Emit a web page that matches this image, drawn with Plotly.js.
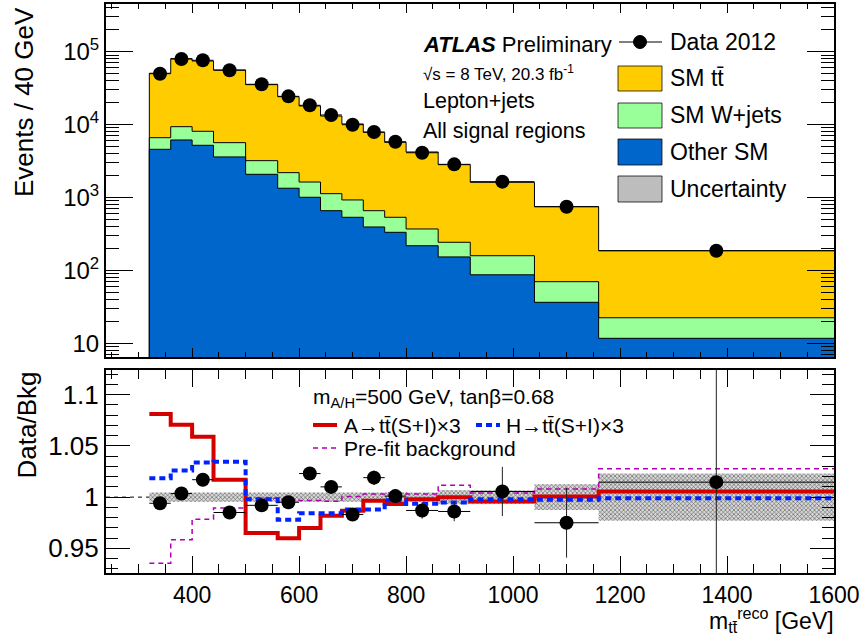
<!DOCTYPE html>
<html><head><meta charset="utf-8">
<script src="https://cdn.plot.ly/plotly-3.0.1.min.js"></script>
<style>body{margin:0;background:#fff;} #chart{width:862px;height:639px;}</style>
</head><body><div id="chart"></div>
<script>
// ---------------- data ----------------
const binEdges   = [320,360,400,440,500,560,600,640,680,720,760,800,860,920,1040,1160,1600];
const otherSM    = [4580, 6150, 5200, 3600, 2080, 1340, 1007, 659, 535, 394, 333, 218, 153, 87, 36.5, 11.7];
const wjets      = [2030, 3210, 2890, 2050, 1120, 850, 623, 469, 390, 265, 202, 152, 90, 72, 33.5, 10.7];
const ttbar      = [43990, 70840, 66410, 50450, 32100, 21910, 16370, 11970, 9275, 7170, 5175, 3840, 2577, 1456, 678, 164];
const dataCounts = [49900, 79400, 76300, 55600, 35700, 24400, 18400, 13550, 9970, 7910, 5820, 4110, 2850, 1648, 748, 186];

const ratioData  = [0.994, 1.0035, 1.017, 0.985, 0.992, 0.995, 1.023, 1.010, 0.983, 1.019, 1.001, 0.987, 0.986, 1.0055, 0.975, 1.0146];
const ratioErr   = [0.004, 0.003, 0.003, 0.004, 0.004, 0.005, 0.005, 0.006, 0.006, 0.007, 0.007, 0.008, 0.0095, 0.024, 0.034, 0.16];
const bandRelErr = [0.0045, 0.0045, 0.0045, 0.0045, 0.0045, 0.0045, 0.0045, 0.0045, 0.0045, 0.0045, 0.0045, 0.0045, 0.007, 0.0065, 0.0125, 0.023];
const ratioA     = [1.081, 1.0705, 1.059, 1.017, 0.965, 0.960, 0.970, 0.9818, 0.9866, 0.9964, 0.9932, 0.998, 1.000, 0.9957, 1.0006, 1.0055];
const ratioH     = [1.0185, 1.026, 1.0337, 1.0344, 0.998, 0.978, 0.9844, 0.9844, 0.988, 0.988, 0.997, 0.9935, 0.9948, 0.998, 0.9974, 0.999];
const ratioPrefit= [0.9356, 0.9584, 0.9785, 0.9893, 0.999, 0.998, 0.9966, 0.996, 1.0006, 1.003, 1.004, 1.003, 1.0117, 1.004, 1.008, 1.0276];

const logTickVals = [10, 100, 1000, 10000, 100000];
const logTickText = ['10', '10<sup>2</sup>', '10<sup>3</sup>', '10<sup>4</sup>', '10<sup>5</sup>'];
const ratioTickVals = [0.95, 1, 1.05, 1.1];
const ratioTickText = ['0.95', '1', '1.05', '1.1'];

// ---------------- helpers ----------------
const nb = otherSM.length;
const centers = [], halfW = [];
for (let i = 0; i < nb; i++) { centers.push((binEdges[i] + binEdges[i+1]) / 2); halfW.push((binEdges[i+1] - binEdges[i]) / 2); }
const stackGreen = otherSM.map((v, i) => v + wjets[i]);
const stackTotal = stackGreen.map((v, i) => v + ttbar[i]);

function stepHist(vals) {        // closed-at-left step outline for a histogram
  const x = [binEdges[0]], y = [1];
  for (let i = 0; i < nb; i++) { x.push(binEdges[i]); y.push(vals[i]); }
  x.push(binEdges[nb]); y.push(vals[nb-1]);
  return {x, y};
}
function stepLine(vals) {
  const x = [], y = [];
  for (let i = 0; i < nb; i++) { x.push(binEdges[i]); y.push(vals[i]); }
  x.push(binEdges[nb]); y.push(vals[nb-1]);
  return {x, y};
}
const minorLog = [];
for (let d = 0; d <= 5; d++) for (let k = 2; k <= 9; k++) minorLog.push(k * Math.pow(10, d));

// pixel -> paper
const L = 106, R = 834, T = 4, B = 573;
const px = p => (p - L) / (R - L);
const py = p => (B - p) / (B - T);

const FONT = 'Liberation Sans, Arial, Helvetica, sans-serif';

// ---------------- traces ----------------
const hTot = stepHist(stackTotal), hGreen = stepHist(stackGreen), hBlue = stepHist(otherSM);
const traces = [
  {x: hTot.x, y: hTot.y, type: 'scatter', mode: 'lines', line: {shape: 'hv', color: 'black', width: 1},
   fill: 'tozeroy', fillcolor: '#FFCC00', xaxis: 'x', yaxis: 'y', name: 'SM tt\u0304', hoverinfo: 'skip'},
  {x: hGreen.x, y: hGreen.y, type: 'scatter', mode: 'lines', line: {shape: 'hv', color: 'black', width: 1},
   fill: 'tozeroy', fillcolor: '#99FF99', xaxis: 'x', yaxis: 'y', name: 'SM W+jets', hoverinfo: 'skip'},
  {x: hBlue.x, y: hBlue.y, type: 'scatter', mode: 'lines', line: {shape: 'hv', color: 'black', width: 1},
   fill: 'tozeroy', fillcolor: '#0066CC', xaxis: 'x', yaxis: 'y', name: 'Other SM', hoverinfo: 'skip'},
  {x: centers, y: dataCounts, type: 'scatter', mode: 'markers', marker: {color: 'black', size: 14},
   error_x: {type: 'data', array: halfW, color: 'black', thickness: 1, width: 0},
   xaxis: 'x', yaxis: 'y', name: 'Data 2012'}
];

// uncertainty band (ratio)
const bx = [], by = [];
for (let i = 0; i < nb; i++) { bx.push(binEdges[i], binEdges[i+1]); by.push(1 + bandRelErr[i], 1 + bandRelErr[i]); }
for (let i = nb - 1; i >= 0; i--) { bx.push(binEdges[i+1], binEdges[i]); by.push(1 - bandRelErr[i], 1 - bandRelErr[i]); }
traces.push({x: bx, y: by, type: 'scatter', mode: 'lines', line: {width: 0}, fill: 'toself',
  fillcolor: 'rgba(200,200,200,1)',
  fillpattern: {shape: 'x', size: 3, solidity: 0.35, fgcolor: '#555555', bgcolor: '#d8d8d8'},
  xaxis: 'x2', yaxis: 'y2', name: 'Uncertainty', hoverinfo: 'skip'});

const sP = stepLine(ratioPrefit), sH = stepLine(ratioH), sA = stepLine(ratioA);
traces.push({x: sP.x, y: sP.y, type: 'scatter', mode: 'lines', line: {shape: 'hv', color: '#B000B0', width: 1.5, dash: '5px,4px'},
  xaxis: 'x2', yaxis: 'y2', name: 'Pre-fit background'});
traces.push({x: sA.x, y: sA.y, type: 'scatter', mode: 'lines', line: {shape: 'hv', color: '#D40000', width: 4},
  xaxis: 'x2', yaxis: 'y2', name: 'A'});
traces.push({x: sH.x, y: sH.y, type: 'scatter', mode: 'lines', line: {shape: 'hv', color: '#0022FF', width: 4, dash: '6px,4px'},
  xaxis: 'x2', yaxis: 'y2', name: 'H'});
traces.push({x: centers, y: ratioData, type: 'scatter', mode: 'markers', marker: {color: 'black', size: 14},
  error_x: {type: 'data', array: halfW, color: 'black', thickness: 1, width: 0},
  error_y: {type: 'data', array: ratioErr, color: '#222', thickness: 1, width: 0},
  xaxis: 'x2', yaxis: 'y2', name: 'Data ratio'});

// ---------------- annotations ----------------
function txt(text, xp, yp, size, extra) {
  return Object.assign({text, x: px(xp), y: py(yp), xref: 'paper', yref: 'paper', xanchor: 'left', yanchor: 'middle',
    showarrow: false, font: {family: FONT, size, color: 'black'}}, extra || {});
}
const annotations = [
  txt('<b><i>ATLAS</i></b> Preliminary', 421, 44, 22),
  txt('\u221As = 8 TeV, 20.3 fb<sup>-1</sup>', 421, 73, 17),
  txt('Lepton+jets', 421, 101, 21.5),
  txt('All signal regions', 421, 131, 21.5),
  txt('Data 2012', 668, 42, 23),
  txt('SM tt\u0304', 668, 78, 23),
  txt('SM W+jets', 668, 115.5, 23),
  txt('Other SM', 668, 152, 23),
  txt('Uncertainty', 668, 189, 23),
  txt('m<sub>A/H</sub>=500 GeV, tan\u03B2=0.68', 311, 398, 21),
  txt('A\u2192tt\u0304(S+I)\u00D73', 342, 425, 21),
  txt('H\u2192tt\u0304(S+I)\u00D73', 504, 425, 21),
  txt('Pre-fit background', 342, 448, 21),
  txt('Events / 40 GeV', 24, 5, 26, {textangle: -90, xanchor: 'center', yanchor: 'top'}),
  txt('Data/Bkg', 26, 370, 26, {textangle: -90, xanchor: 'center', yanchor: 'top'}),
  txt('m<sub>tt\u0304</sub><sup>reco</sup> [GeV]', 836, 620, 23, {xanchor: 'right'})
];

// ---------------- legend swatches (shapes) ----------------
function rect(x0, y0, x1, y1, fill) {
  return {type: 'rect', xref: 'paper', yref: 'paper', x0: px(x0), x1: px(x1), y0: py(y1), y1: py(y0),
    fillcolor: fill, line: {color: 'rgba(0,0,0,0.75)', width: 1}};
}
function hline(x0, x1, y, color, width, dash) {
  return {type: 'line', xref: 'paper', yref: 'paper', x0: px(x0), x1: px(x1), y0: py(y), y1: py(y),
    line: {color, width, dash: dash || 'solid'}};
}
const shapes = [
  {type: 'line', xref: 'x2 domain', yref: 'y2', x0: 0, x1: 1, y0: 1, y1: 1, layer: 'below',
   line: {color: 'black', width: 1, dash: '4px,4px'}},
  hline(619, 662, 42, 'black', 1),
  {type: 'circle', xref: 'paper', yref: 'paper', x0: px(633.5), x1: px(646.5), y0: py(48.5), y1: py(35.5),
   fillcolor: 'black', line: {color: 'black', width: 1}},
  rect(618, 66, 662, 91, '#FFCC00'),
  rect(618, 103, 662, 128, '#99FF99'),
  rect(618, 139, 662, 165, '#0066CC'),
  rect(618, 176, 662, 202, '#BDBDBD'),
  hline(313, 337, 425, '#D40000', 4),
  hline(476, 500, 425, '#0022FF', 4, '6px,4px'),
  hline(313, 337, 448, '#B000B0', 1.5, '5px,4px')
];

// ---------------- layout ----------------
const axBase = {showline: true, linewidth: 2, linecolor: 'black', mirror: 'ticks', showgrid: false, zeroline: false,
  ticks: 'inside', tickwidth: 1, tickcolor: 'black'};
const layout = {
  width: 862, height: 639,
  margin: {l: L, r: 862 - R, t: T, b: 639 - B},
  paper_bgcolor: 'white', plot_bgcolor: 'white',
  showlegend: false,
  font: {family: FONT, color: 'black'},
  xaxis: Object.assign({}, axBase, {domain: [0, 1], anchor: 'y', range: [239, 1600], showticklabels: false,
    tick0: 0, dtick: 200, ticklen: 9, minor: {tick0: 0, dtick: 50, ticks: 'inside', ticklen: 5, tickwidth: 1, tickcolor: 'black'}}),
  yaxis: Object.assign({}, axBase, {domain: [py(357), 1], anchor: 'x', type: 'log', range: [0.812, 5.654],
    tickmode: 'array', tickvals: logTickVals, ticktext: logTickText, ticklen: 27, tickfont: {size: 24},
    minor: {tickmode: 'array', tickvals: minorLog, ticks: 'inside', ticklen: 13, tickwidth: 1, tickcolor: 'black'}}),
  xaxis2: Object.assign({}, axBase, {domain: [0, 1], anchor: 'y2', range: [239, 1600],
    tick0: 0, dtick: 200, ticklen: 17, tickfont: {size: 23},
    minor: {tick0: 0, dtick: 50, ticks: 'inside', ticklen: 9, tickwidth: 1, tickcolor: 'black'}}),
  yaxis2: Object.assign({}, axBase, {domain: [0, py(370)], anchor: 'x2', range: [0.926, 1.124],
    tickmode: 'array', tickvals: ratioTickVals, ticktext: ratioTickText, ticklen: 24, tickfont: {size: 26},
    minor: {tick0: 0, dtick: 0.01, ticks: 'inside', ticklen: 12, tickwidth: 1, tickcolor: 'black'}}),
  annotations, shapes
};

Plotly.newPlot('chart', traces, layout, {staticPlot: true});
</script>
</body></html>
